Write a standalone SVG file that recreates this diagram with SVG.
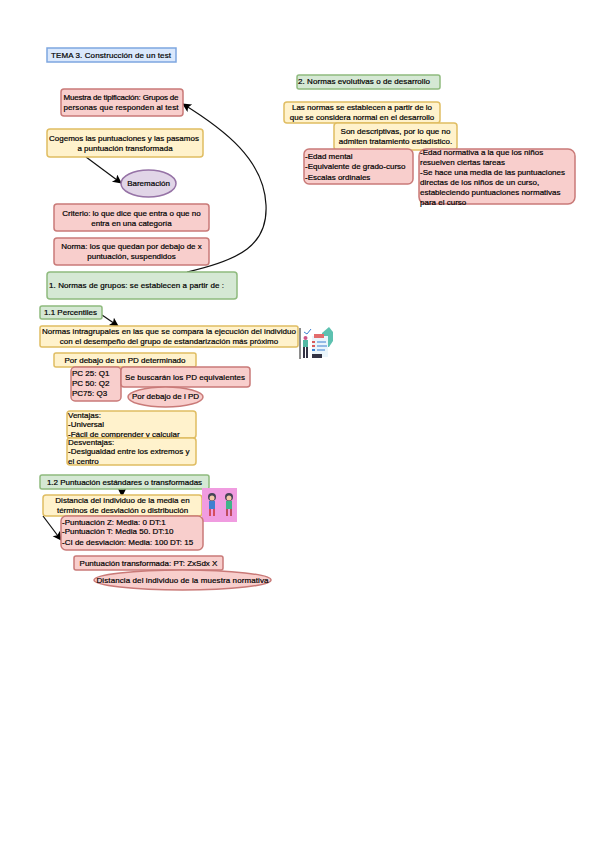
<svg xmlns="http://www.w3.org/2000/svg" width="599" height="848" viewBox="0 0 599 848">
<style>
text{font-family:"Liberation Sans",Arial,sans-serif;font-size:8px;fill:#000;stroke:#000;stroke-width:.2}
.m{text-anchor:middle}
.r{fill:#f8cecc;stroke:#c97a78;stroke-width:1.5}
.y{fill:#fff2cc;stroke:#e0bd62;stroke-width:1.5}
.g{fill:#d5e8d4;stroke:#8fbb7e;stroke-width:1.5}
.b{fill:#dae8fc;stroke:#7ea6e0;stroke-width:1.5}
.v{fill:#e1d5e7;stroke:#9673a6;stroke-width:1.5}
.c{fill:none;stroke:#111;stroke-width:1.200;marker-end:url(#a)}
</style>
<defs><marker id="a" markerWidth="10" markerHeight="10" refX="8" refY="4.500" orient="auto" markerUnits="userSpaceOnUse"><path d="M0 0L9 4.500L0 9L2 4.500Z" fill="#000"/></marker></defs>
<g id="connectors">
<path class="c" d="M187 272C240 260 268 245 266 205C264 160 225 130 183 104"/>
<path class="c" d="M86 157L121 183"/>
<path class="c" d="M102 315L118 326"/>
<path class="c" d="M122 488L122 496"/>
<path class="c" d="M43 516L61 540"/>
</g>
<g id="tema"><rect class="b" x="47" y="48" width="129" height="14"/><text x="51" y="58" textLength="120">TEMA 3. Construcción de un test</text></g>
<g id="muestra"><rect class="r" x="61" y="89" width="122" height="27" rx="3"/><text class="m" x="121" y="100" textLength="115">Muestra de tipificación: Grupos de</text><text class="m" x="121" y="110" textLength="115">personas que responden al test</text></g>
<g id="cogemos"><rect class="y" x="47" y="129" width="156" height="28" rx="3"/><text class="m" x="124" y="141">Cogemos las puntuaciones y las pasamos</text><text class="m" x="125" y="151">a puntuación transformada</text></g>
<g id="baremacion"><ellipse class="v" cx="148.500" cy="183.500" rx="27.500" ry="13.500"/><text class="m" x="148.500" y="186">Baremación</text></g>
<g id="criterio"><rect class="r" x="54" y="204" width="155" height="27" rx="3"/><text class="m" x="131.500" y="216">Criterio: lo que dice que entra o que no</text><text class="m" x="131.500" y="226">entra en una categoría</text></g>
<g id="norma"><rect class="r" x="54" y="238" width="155" height="27" rx="3"/><text class="m" x="131.500" y="249">Norma: los que quedan por debajo de x</text><text class="m" x="131.500" y="259">puntuación, suspendidos</text></g>
<g id="normas-grupos"><rect class="g" x="47" y="272" width="190" height="27" rx="3"/><text x="49" y="288" textLength="175">1. Normas de grupos: se establecen a partir de :</text></g>
<g id="normas-evolutivas"><rect class="g" x="297" y="75" width="143" height="14" rx="2"/><text x="298" y="84" textLength="132">2. Normas evolutivas o de desarrollo</text></g>
<g id="las-normas"><rect class="y" x="284" y="102" width="156" height="21" rx="3"/><text class="m" x="362" y="110">Las normas se establecen a partir de lo</text><text class="m" x="362" y="120">que se considera normal en el desarrollo</text></g>
<g id="descriptivas"><rect class="y" x="334" y="123" width="123" height="27" rx="3"/><text class="m" x="395.500" y="134">Son descriptivas, por lo que no</text><text class="m" x="395.500" y="144">admiten tratamiento estadístico.</text></g>
<g id="edad-mental"><rect class="r" x="304" y="149" width="109" height="35" rx="5"/><text x="305" y="159">-Edad mental</text><text x="305" y="169">-Equivalente de grado-curso</text><text x="305" y="180">-Escalas ordinales</text></g>
<g id="edad-normativa"><rect class="r" x="419" y="149" width="156" height="55" rx="7"/><text x="420" y="155">-Edad normativa a la que los niños</text><text x="420" y="165">resuelven ciertas tareas</text><text x="420" y="175">-Se hace una media de las puntuaciones</text><text x="420" y="185">directas de los niños de un curso,</text><text x="420" y="195">estableciendo puntuaciones normativas</text><text x="420" y="205">para el curso</text></g>
<g id="percentiles"><rect class="g" x="40" y="306" width="62" height="13" rx="2"/><text x="44" y="315">1.1 Percentiles</text></g>
<g id="intragrupales"><rect class="y" x="40" y="326" width="258" height="21" rx="2"/><text class="m" x="169" y="334" textLength="254">Normas intragrupales en las que se compara la ejecución del individuo</text><text class="m" x="169" y="344">con el desempeño del grupo de estandarización más próximo</text></g>
<g id="icono-lista"><rect x="299" y="327" width="34" height="33" fill="#fff"/><path d="M300 328V359" stroke="#666" stroke-width="1.500"/><path d="M329 327l4 5v9l-4 6h-7v-14z" fill="#5dc1b0"/><rect x="312" y="336" width="16" height="21" fill="#eaf5fb"/><rect x="314" y="334" width="10" height="4" fill="#e36c6c"/><path d="M317 342h9M317 346h10M317 350h8" stroke="#3a7fd0"/><rect x="312" y="341" width="3" height="2" fill="#d85c5c"/><rect x="312" y="345" width="3" height="2" fill="#d85c5c"/><rect x="312" y="349" width="3" height="2" fill="#3a7fd0"/><path d="M304 347v11M307 347v11" stroke="#334" stroke-width="2"/><rect x="303" y="340" width="5" height="7" fill="#53b8a3"/><circle cx="305.500" cy="338" r="2" fill="#c58"/><path d="M304 332l3 2 4-5" fill="none" stroke="#3a7fd0"/><rect x="312" y="354" width="10" height="4" fill="#334"/></g>
<g id="por-debajo-pd"><rect class="y" x="54" y="353" width="142" height="14" rx="2"/><text class="m" x="125" y="363">Por debajo de un PD determinado</text></g>
<g id="pc"><rect class="r" x="71" y="367" width="50" height="34" rx="4"/><text x="72" y="376">PC 25: Q1</text><text x="72" y="386">PC 50: Q2</text><text x="72" y="396">PC75: Q3</text></g>
<g id="se-buscaran"><rect class="r" x="121" y="367" width="129" height="20" rx="3"/><text class="m" x="185" y="380" textLength="120">Se buscarán los PD equivalentes</text></g>
<g id="por-debajo-ipd"><ellipse class="r" cx="165.500" cy="397" rx="37.500" ry="10"/><text class="m" x="165.500" y="399">Por debajo de l PD</text></g>
<g id="ventajas"><rect class="y" x="67" y="411" width="129" height="27" rx="3"/><text x="68" y="418">Ventajas:</text><text x="68" y="427">-Universal</text><text x="68" y="437">-Fácil de comprender y calcular</text></g>
<g id="desventajas"><rect class="y" x="67" y="438" width="129" height="27" rx="3"/><text x="68" y="445">Desventajas:</text><text x="68" y="454">-Desigualdad entre los extremos y</text><text x="68" y="464">el centro</text></g>
<g id="estandares"><rect class="g" x="40" y="475" width="169" height="14" rx="2"/><text class="m" x="124.500" y="485">1.2 Puntuación estándares o transformadas</text></g>
<g id="distancia"><rect class="y" x="43" y="495" width="159" height="21" rx="3"/><text class="m" x="122.500" y="503">Distancia del individuo de la media en</text><text class="m" x="122.500" y="513">términos de desviación o distribución</text></g>
<g id="personajes"><rect x="202" y="488" width="35" height="34" fill="#f09ce0"/><circle cx="212" cy="497" r="4" fill="#445"/><circle cx="212" cy="498" r="2.500" fill="#f3c9a8"/><rect x="209" y="501" width="6" height="8" fill="#3f7fd0"/><path d="M210 509v7M214 509v7" stroke="#c33" stroke-width="1.500"/><circle cx="229" cy="497" r="4" fill="#445"/><circle cx="229" cy="498" r="2.500" fill="#f3c9a8"/><rect x="226" y="501" width="6" height="8" fill="#3fb58a"/><path d="M227 509v7M231 509v7" stroke="#a33" stroke-width="1.500"/></g>
<g id="puntuaciones"><rect class="r" x="61" y="516" width="142" height="34" rx="5"/><text x="62" y="525">-Puntuación Z: Media: 0 DT:1</text><text x="62" y="534">-Puntuación T: Media 50. DT:10</text><text x="62" y="545">-CI de desviación: Media: 100 DT: 15</text></g>
<g id="transformada"><rect class="r" x="74" y="556" width="149" height="14" rx="2"/><text class="m" x="148.500" y="566">Puntuación transformada: PT: ZxSdx X</text></g>
<g id="distancia-muestra"><ellipse class="r" cx="182.500" cy="580" rx="88.500" ry="10"/><text class="m" x="182.500" y="583" textLength="172">Distancia del individuo de la muestra normativa</text></g>
</svg>
